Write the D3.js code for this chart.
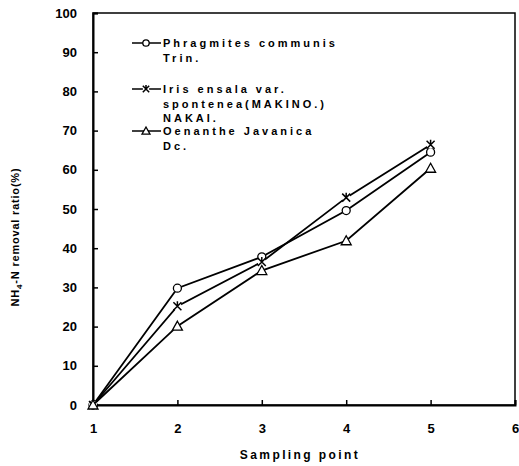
<!DOCTYPE html>
<html><head><meta charset="utf-8">
<script src="https://cdn.jsdelivr.net/npm/d3@7"></script>
<style>body{margin:0;background:#fff}</style>
</head><body>
<svg id="c" width="519" height="466"></svg>
<script>
const samplingPoints = [1, 2, 3, 4, 5];
const phragmites = [0, 29.8, 37.8, 49.6, 64.5];
const iris = [0, 25.2, 36.5, 52.9, 66.4];
const oenanthe = [0, 20.1, 34.3, 41.9, 60.4];
const xTicks = [1, 2, 3, 4, 5, 6];
const yTicks = [0, 10, 20, 30, 40, 50, 60, 70, 80, 90, 100];
const seriesNames = [["Phragmites communis", "Trin."], ["Iris ensala var.", "spontenea(MAKINO.)", "NAKAI."], ["Oenanthe Javanica", "Dc."]];
const seriesMarkers = ["circle", "star", "triangle"];

const svg = d3.select("#c");
const L = 93, R = 515, T = 13, B = 405;
const x = d3.scaleLinear().domain([1, 6]).range([L, R]);
const y = d3.scaleLinear().domain([0, 100]).range([B, T]);
const font = "'Liberation Sans', Arial, sans-serif";

// frame
svg.append("rect").attr("x", L).attr("y", T).attr("width", R - L).attr("height", B - T)
  .attr("fill", "none").attr("stroke", "#000").attr("stroke-width", 1.5);

const xAxis = svg.append("g").attr("transform", `translate(0,${B})`)
  .call(d3.axisBottom(x).tickValues(xTicks).tickSize(-5).tickPadding(19).tickFormat(d3.format("d")));
const yAxis = svg.append("g").attr("transform", `translate(${L},0)`)
  .call(d3.axisLeft(y).tickValues(yTicks).tickSize(-5).tickPadding(16).tickFormat(d3.format("d")));
[xAxis, yAxis].forEach(g => {
  g.select(".domain").attr("stroke-width", 2);
  g.selectAll(".tick line").attr("stroke-width", 1.5);
  g.selectAll("text").attr("font-family", font).attr("font-weight", "bold").attr("font-size", 13).attr("fill", "#000");
});

// axis titles
svg.append("text").attr("x", 300).attr("y", 459).attr("text-anchor", "middle")
  .attr("font-family", font).attr("font-weight", "bold").attr("font-size", 12).attr("letter-spacing", 2.4)
  .text("Sampling point");
const yl = svg.append("text").attr("transform", "translate(19,237) rotate(-90)").attr("text-anchor", "middle")
  .attr("font-family", font).attr("font-weight", "bold").attr("font-size", 11).attr("letter-spacing", 0.8);
yl.append("tspan").text("NH");
yl.append("tspan").attr("font-size", 8).attr("dy", 3).text("4");
yl.append("tspan").attr("dy", -3).text("-N removal ratio(%)");

const data = [phragmites, iris, oenanthe];
const line = d3.line().x((d, i) => x(samplingPoints[i])).y(d => y(d));

function marker(g, type, cx, cy, sz) {
  const k = sz || 1;
  if (type === "circle") {
    g.append("circle").attr("cx", cx).attr("cy", cy).attr("r", 4 * k).attr("fill", "#fff").attr("stroke", "#000").attr("stroke-width", 1.3);
  } else if (type === "triangle") {
    g.append("path").attr("d", `M${cx},${cy - 5 * k}L${cx + 5 * k},${cy + 4 * k}L${cx - 5 * k},${cy + 4 * k}Z`).attr("fill", "#fff").attr("stroke", "#000").attr("stroke-width", 1.3);
  } else {
    g.append("circle").attr("cx", cx).attr("cy", cy).attr("r", 4 * k).attr("fill", "#fff");
    g.append("path").attr("d", `M${cx - 4 * k},${cy - 4 * k}L${cx + 4 * k},${cy + 4 * k}M${cx + 4 * k},${cy - 4 * k}L${cx - 4 * k},${cy + 4 * k}M${cx},${cy - 5 * k}L${cx},${cy + 1}`)
      .attr("stroke", "#000").attr("stroke-width", 1.5).attr("fill", "none");
  }
}

data.forEach((vals, s) => {
  svg.append("path").datum(vals).attr("d", line).attr("fill", "none").attr("stroke", "#000").attr("stroke-width", 1.8);
});
data.forEach((vals, s) => {
  const g = svg.append("g");
  vals.forEach((v, i) => marker(g, seriesMarkers[s], x(samplingPoints[i]), y(v)));
});

// legend
const legY = [43, 89, 131];
seriesNames.forEach((lines, s) => {
  const g = svg.append("g");
  g.append("line").attr("x1", 132).attr("x2", 161).attr("y1", legY[s]).attr("y2", legY[s]).attr("stroke", "#000").attr("stroke-width", 1.5);
  marker(g, seriesMarkers[s], 146, legY[s], 0.8);
  lines.forEach((t, k) => {
    g.append("text").attr("x", 163).attr("y", legY[s] + 4 + k * 14.5)
      .attr("font-family", font).attr("font-weight", "bold").attr("font-size", 11).attr("letter-spacing", 3)
      .text(t);
  });
});
</script>
</body></html>
